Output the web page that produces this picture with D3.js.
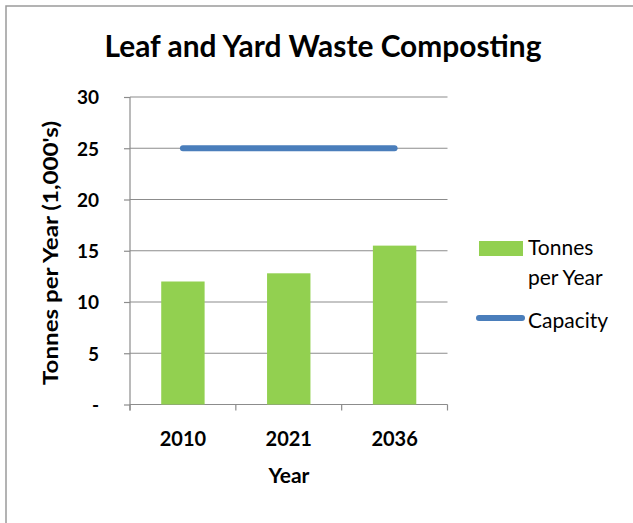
<!DOCTYPE html>
<html>
<head>
<meta charset="utf-8">
<script src="https://cdn.jsdelivr.net/npm/d3@7"></script>
<style>
  body { margin: 0; background: #fff; }
  text { font-family: Lato, "Open Sans", sans-serif; fill: #000; }
</style>
</head>
<body>
<script>
// chart data
var years = ["2010", "2021", "2036"];
var tonnes = [12.0, 12.8, 15.5];
var capacity = [25, 25, 25];
var yTicks = [0, 5, 10, 15, 20, 25, 30];

var width = 633, height = 523;
var plotLeft = 130, plotRight = 447.5, plotTop = 97, plotBottom = 404.5;

var svg = d3.select("body").append("svg")
    .attr("width", width)
    .attr("height", height);

// outer border (only left/top visible in the crop)
svg.append("rect")
    .attr("x", 6).attr("y", 6)
    .attr("width", 700).attr("height", 600)
    .style("fill", "none")
    .style("stroke", "#9a9a9a")
    .style("stroke-width", 1.5);

var x = d3.scaleBand().domain(years).range([plotLeft, plotRight]);
var y = d3.scaleLinear().domain([0, 30]).range([plotBottom, plotTop]);

// gridlines
svg.selectAll("line.grid")
    .data(yTicks.slice(1))
    .enter().append("line")
    .attr("class", "grid")
    .attr("x1", plotLeft).attr("x2", plotRight)
    .attr("y1", function(d){ return y(d); })
    .attr("y2", function(d){ return y(d); })
    .style("stroke", "#8c8c8c")
    .style("stroke-width", 1.2);

// y axis
var yAxis = svg.append("g")
    .attr("transform", "translate(" + plotLeft + ",0)")
    .call(d3.axisLeft(y).tickValues(yTicks).tickSize(6).tickPadding(25)
        .tickFormat(function(d){ return d === 0 ? "-" : d; }));
yAxis.select(".domain").remove();
yAxis.append("line").attr("y1", plotTop).attr("y2", plotBottom + 6);
yAxis.selectAll("line").style("stroke", "#8c8c8c").style("stroke-width", 1.2);
yAxis.selectAll("text")
    .style("font-size", "19px").style("font-weight", "bold")
    .style("font-family", "Lato, sans-serif").style("fill", "#000")
    .attr("dy", "0.36em");

// x axis
var xAxis = svg.append("g")
    .attr("transform", "translate(0," + plotBottom + ")");
xAxis.append("line").attr("x1", plotLeft).attr("x2", plotRight).attr("y1", 0).attr("y2", 0);
var xTickPos = [plotLeft].concat(years.map(function(d){ return x(d) + x.bandwidth(); }));
xAxis.selectAll("line.tk")
    .data(xTickPos)
    .enter().append("line")
    .attr("class", "tk")
    .attr("x1", function(d){ return d; }).attr("x2", function(d){ return d; })
    .attr("y1", 0).attr("y2", 6);
xAxis.selectAll("line").style("stroke", "#8c8c8c").style("stroke-width", 1.2);
xAxis.selectAll("text")
    .data(years)
    .enter().append("text")
    .attr("x", function(d){ return x(d) + x.bandwidth() / 2; })
    .attr("y", 41)
    .attr("text-anchor", "middle")
    .style("font-size", "20px").style("font-weight", "bold")
    .text(function(d){ return d; });

// bars
var barW = x.bandwidth() * 0.41;
svg.selectAll("rect.bar")
    .data(tonnes)
    .enter().append("rect")
    .attr("class", "bar")
    .attr("x", function(d, i){ return x(years[i]) + (x.bandwidth() - barW) / 2; })
    .attr("width", barW)
    .attr("y", function(d){ return y(d); })
    .attr("height", function(d){ return y(0) - y(d); })
    .style("fill", "#92d050");

// capacity line
var line = d3.line()
    .x(function(d, i){ return x(years[i]) + x.bandwidth() / 2; })
    .y(function(d){ return y(d); });
svg.append("path")
    .datum(capacity)
    .attr("d", line)
    .style("fill", "none")
    .style("stroke", "#4a7ebb")
    .style("stroke-width", 6)
    .style("stroke-linecap", "round");

// title
svg.append("text")
    .attr("x", 323).attr("y", 57)
    .attr("text-anchor", "middle")
    .attr("textLength", 437).attr("lengthAdjust", "spacingAndGlyphs")
    .style("font-size", "30px").style("font-weight", "bold")
    .text("Leaf and Yard Waste Composting");

// axis titles
svg.append("text")
    .attr("x", 289).attr("y", 483)
    .attr("text-anchor", "middle")
    .style("font-size", "21px").style("font-weight", "bold")
    .text("Year");

svg.append("text")
    .attr("transform", "translate(58,253) rotate(-90)")
    .attr("text-anchor", "middle")
    .attr("textLength", 264).attr("lengthAdjust", "spacingAndGlyphs")
    .style("font-size", "20px").style("font-weight", "bold")
    .text("Tonnes per Year (1,000's)");

// legend
var lg = svg.append("g");
lg.append("rect")
    .attr("x", 479).attr("y", 241).attr("width", 44).attr("height", 15)
    .style("fill", "#92d050");
lg.append("text").attr("x", 528).attr("y", 255)
    .style("font-size", "21px").text("Tonnes");
lg.append("text").attr("x", 528).attr("y", 285)
    .style("font-size", "21px").text("per Year");
lg.append("line")
    .attr("x1", 479).attr("x2", 522).attr("y1", 318).attr("y2", 318)
    .style("stroke", "#4a7ebb").style("stroke-width", 6)
    .style("stroke-linecap", "round");
lg.append("text").attr("x", 528).attr("y", 328)
    .style("font-size", "21px").text("Capacity");
</script>
</body>
</html>
